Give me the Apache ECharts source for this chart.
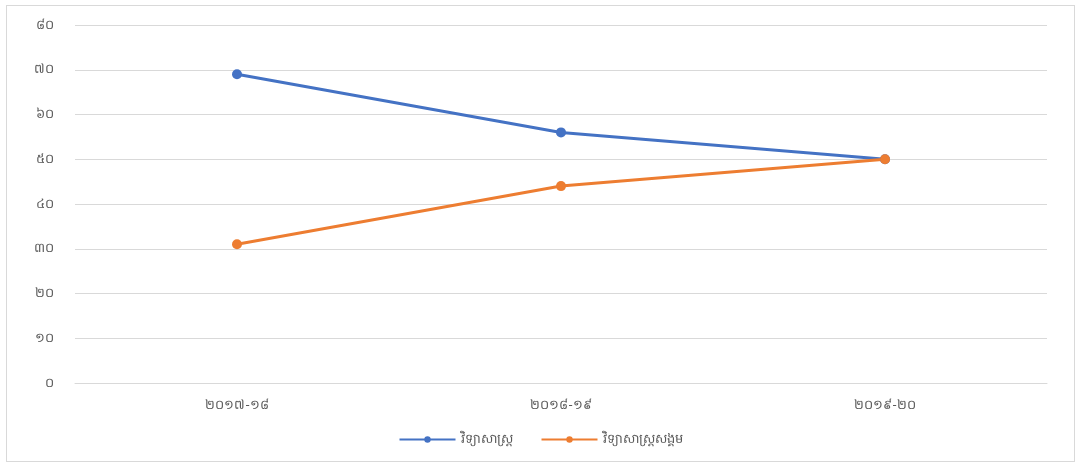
<!DOCTYPE html>
<html>
<head>
<meta charset="utf-8">
<style>
html,body{margin:0;padding:0;background:#fff;}
#frame{position:absolute;left:6px;top:5px;width:1069px;height:457px;border:1px solid #d9d9d9;box-sizing:border-box;}
#chart{position:absolute;left:0;top:0;width:1081px;height:468px;}
</style>
<script src="https://cdn.jsdelivr.net/npm/echarts@6/dist/echarts.min.js"></script>
</head>
<body>
<div id="frame"></div>
<div id="chart"></div>
<script>
const categories = ['២០១៧-១៨', '២០១៨-១៩', '២០១៩-២០'];
const seriesNames = ['វិទ្យាសាស្ត្រ', 'វិទ្យាសាស្ត្រសង្គម'];
const scienceValues = [69, 56, 50];
const socialValues = [31, 44, 50];
const yTickLabels = ['០', '១០', '២០', '៣០', '៤០', '៥០', '៦០', '៧០', '៨០'];

const khmerDigits = '០១២៣៤៥៦៧៨៩';
function toKhmer(n){ return String(n).replace(/[0-9]/g, d => khmerDigits[+d]); }

const chart = echarts.init(document.getElementById('chart'));
const font = '"Noto Sans", "DejaVu Sans", sans-serif';
chart.setOption({
  animation: false,
  textStyle: { fontFamily: font },
  color: ['#4472C4', '#ED7D31'],
  grid: { left: 75, right: 34, top: 25, bottom: 85 },
  legend: {
    bottom: 17,
    left: 'center',
    itemWidth: 56,
    itemHeight: 8,
    itemGap: 28,
    textStyle: { color: '#595959', fontSize: 13, fontFamily: font },
    data: seriesNames
  },
  xAxis: {
    type: 'category',
    data: categories,
    boundaryGap: true,
    axisLine: { lineStyle: { color: '#d9d9d9' } },
    axisTick: { show: false },
    axisLabel: { color: '#595959', fontSize: 13, margin: 16 }
  },
  yAxis: {
    type: 'value',
    min: 0, max: 80, interval: 10,
    axisLine: { show: false },
    axisTick: { show: false },
    splitLine: { lineStyle: { color: '#d9d9d9' } },
    axisLabel: {
      color: '#595959', fontSize: 13, margin: 21,
      formatter: v => yTickLabels[Math.round(v / 10)] || toKhmer(v)
    }
  },
  series: [
    {
      name: seriesNames[0], type: 'line', data: scienceValues,
      symbol: 'circle', symbolSize: 10,
      lineStyle: { width: 3 }
    },
    {
      name: seriesNames[1], type: 'line', data: socialValues,
      symbol: 'circle', symbolSize: 10,
      lineStyle: { width: 3 }
    }
  ]
});
</script>
</body>
</html>
